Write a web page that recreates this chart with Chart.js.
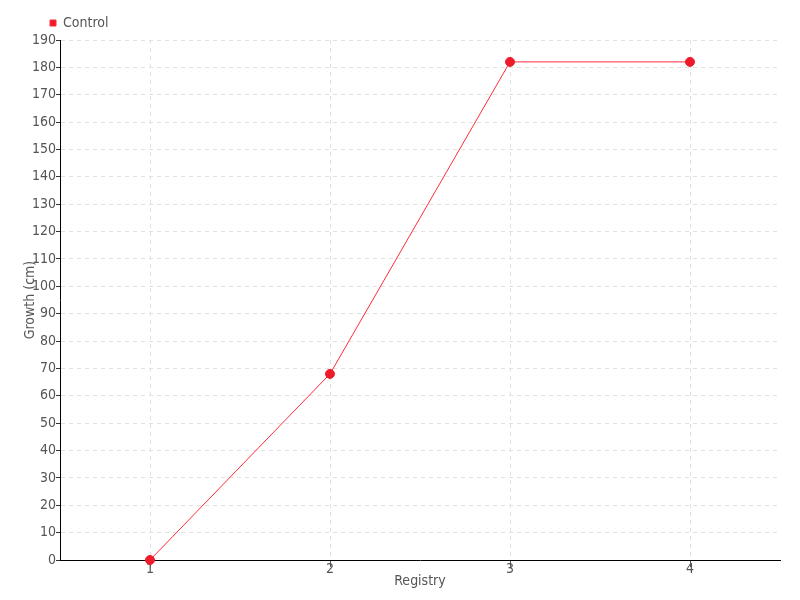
<!DOCTYPE html>
<html>
<head>
<meta charset="utf-8">
<script src="https://cdn.jsdelivr.net/npm/chart.js@4/dist/chart.umd.min.js"></script>
<style>
html,body{margin:0;padding:0;background:#fff;}
#wrap{width:800px;height:600px;}
</style>
</head>
<body>
<div id="wrap"><canvas id="c" width="800" height="600"></canvas></div>
<script>
const categories = ["1", "2", "3", "4"];
const controlValues = [0, 68, 182, 182];
const seriesName = "Control";
const xTitle = "Registry";
const yTitle = "Growth (cm)";

const FONT = "'DejaVu Sans Condensed', 'Liberation Sans Narrow', sans-serif";
const TXT = '#555';

new Chart(document.getElementById('c'), {
  type: 'line',
  data: {
    labels: categories,
    datasets: [{
      label: seriesName,
      data: controlValues,
      borderColor: '#ff2b3b',
      backgroundColor: '#ee1c2a',
      pointBackgroundColor: '#ee1c2a',
      pointBorderColor: '#ee1c2a',
      borderWidth: 1,
      pointRadius: 4.5,
      tension: 0,
      fill: false,
      clip: false
    }]
  },
  options: {
    responsive: false,
    animation: false,
    layout: { padding: { left: 0, right: 20, top: 8, bottom: 0 } },
    plugins: {
      legend: {
        align: 'start',
        labels: {
          boxWidth: 6, boxHeight: 6,
          color: TXT,
          font: { family: FONT, size: 14 },
          padding: 8
        }
      },
      tooltip: { enabled: false }
    },
    scales: {
      x: {
        offset: true,
        grid: { offset: false, color: '#e2e2e2', tickColor: '#555', tickLength: 7, drawTicks: true },
        border: { color: '#000', width: 1, dash: [4, 4] },
        ticks: { color: TXT, font: { family: FONT, size: 14 }, padding: -6 },
        title: { display: true, text: xTitle, color: TXT, font: { family: FONT, size: 14 }, padding: { top: 0, bottom: 10 } },
        afterFit: s => { s.height = 40; }
      },
      y: {
        min: 0, max: 190,
        ticks: { stepSize: 10, color: TXT, font: { family: FONT, size: 14 }, padding: 0 },
        grid: { color: '#e2e2e2', tickColor: '#333', tickLength: 4 },
        border: { color: '#000', width: 1, dash: [4, 4] },
        title: { display: true, text: yTitle, color: TXT, font: { family: FONT, size: 14 }, padding: { top: 22, bottom: 0 } },
        afterFit: s => { s.width = 60; }
      }
    }
  },
  plugins: [{
    id: 'legendShift',
    afterLayout(chart) {
      const lg = chart.legend;
      if (lg) { lg.left += 42; lg.right += 42; }
    }
  }]
});
</script>
</body>
</html>
